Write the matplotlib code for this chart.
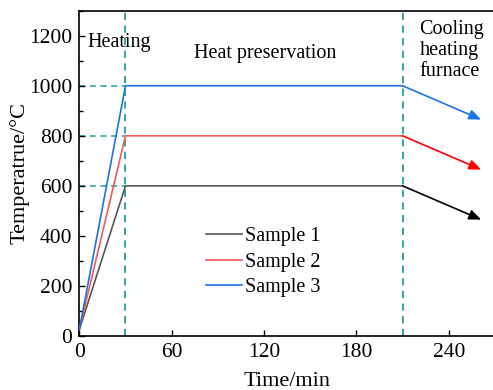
import matplotlib.pyplot as plt
from matplotlib.ticker import MultipleLocator

plt.rcParams['font.family'] = ['Liberation Serif', 'DejaVu Serif']

# profile: start, end of heating, end of holding
times = [0, 30, 210]
start_temp = 25
hold_temps = [600, 800, 1000]
labels = ['Sample 1', 'Sample 2', 'Sample 3']
line_colors = ['#555555', '#f25a5a', '#1f6fe5']
arrow_colors = ['black', 'red', '#1a73e8']
# cooling arrow: end time and drop
cool_end = 261
cool_drop = 135
stage_times = [30, 210]

fig = plt.figure(figsize=(4.93, 3.9), dpi=100)
ax = fig.add_axes([79.3 / 493, 1 - 336 / 390, (495 - 79.3) / 493, (336 - 10.7) / 390])

teal = '#1f9e9e'
for t in stage_times:
    ax.axvline(t, color=teal, ls=(0, (4, 3)), lw=1.3, zorder=1)
for T in hold_temps:
    ax.plot([0, 30], [T, T], color=teal, ls=(0, (4, 3)), lw=1.1, zorder=1)

for T, lab, c, ac in zip(hold_temps, labels, line_colors, arrow_colors):
    ax.plot(times, [start_temp, T, T], color=c, lw=1.2, label=lab, zorder=3)
    ax.annotate('', xy=(cool_end, T - cool_drop), xytext=(times[-1], T),
                arrowprops=dict(arrowstyle='-|>,head_length=0.6,head_width=0.25',
                                color=ac, lw=1.2, mutation_scale=12,
                                shrinkA=0, shrinkB=0))

ax.set_xlim(0, 270)
ax.set_ylim(0, 1300)
ax.xaxis.set_major_locator(MultipleLocator(60))
ax.yaxis.set_major_locator(MultipleLocator(200))
ax.yaxis.set_minor_locator(MultipleLocator(100))
ax.tick_params(direction='in', labelsize=15.5, length=4, width=1, pad=5)
ax.tick_params(which='minor', direction='in', length=3, width=1)
ax.tick_params(axis='x', top=False)
ax.spines['right'].set_visible(False)
for s in ['left', 'bottom', 'top']:
    ax.spines[s].set_linewidth(1.2)

ax.set_xlabel('Time/min', fontsize=16, labelpad=7)
ax.set_ylabel('Temperatrue/°C', fontsize=16, labelpad=0)

ax.text(5, 1172, 'Heating', fontsize=14.5, va='center')
ax.text(121, 1128, 'Heat preservation', fontsize=14.5, va='center', ha='center')
ax.text(221, 1262, 'Cooling\nheating\nfurnace', fontsize=14.5, va='top', ha='left',
        linespacing=1.15)

ax.legend(loc='upper left', bbox_to_anchor=(0.28, 0.365), frameon=False, fontsize=14.5,
          handlelength=1.8, handletextpad=0.15, labelspacing=0.3, borderpad=0)

fig.savefig('out.png', dpi=100)
